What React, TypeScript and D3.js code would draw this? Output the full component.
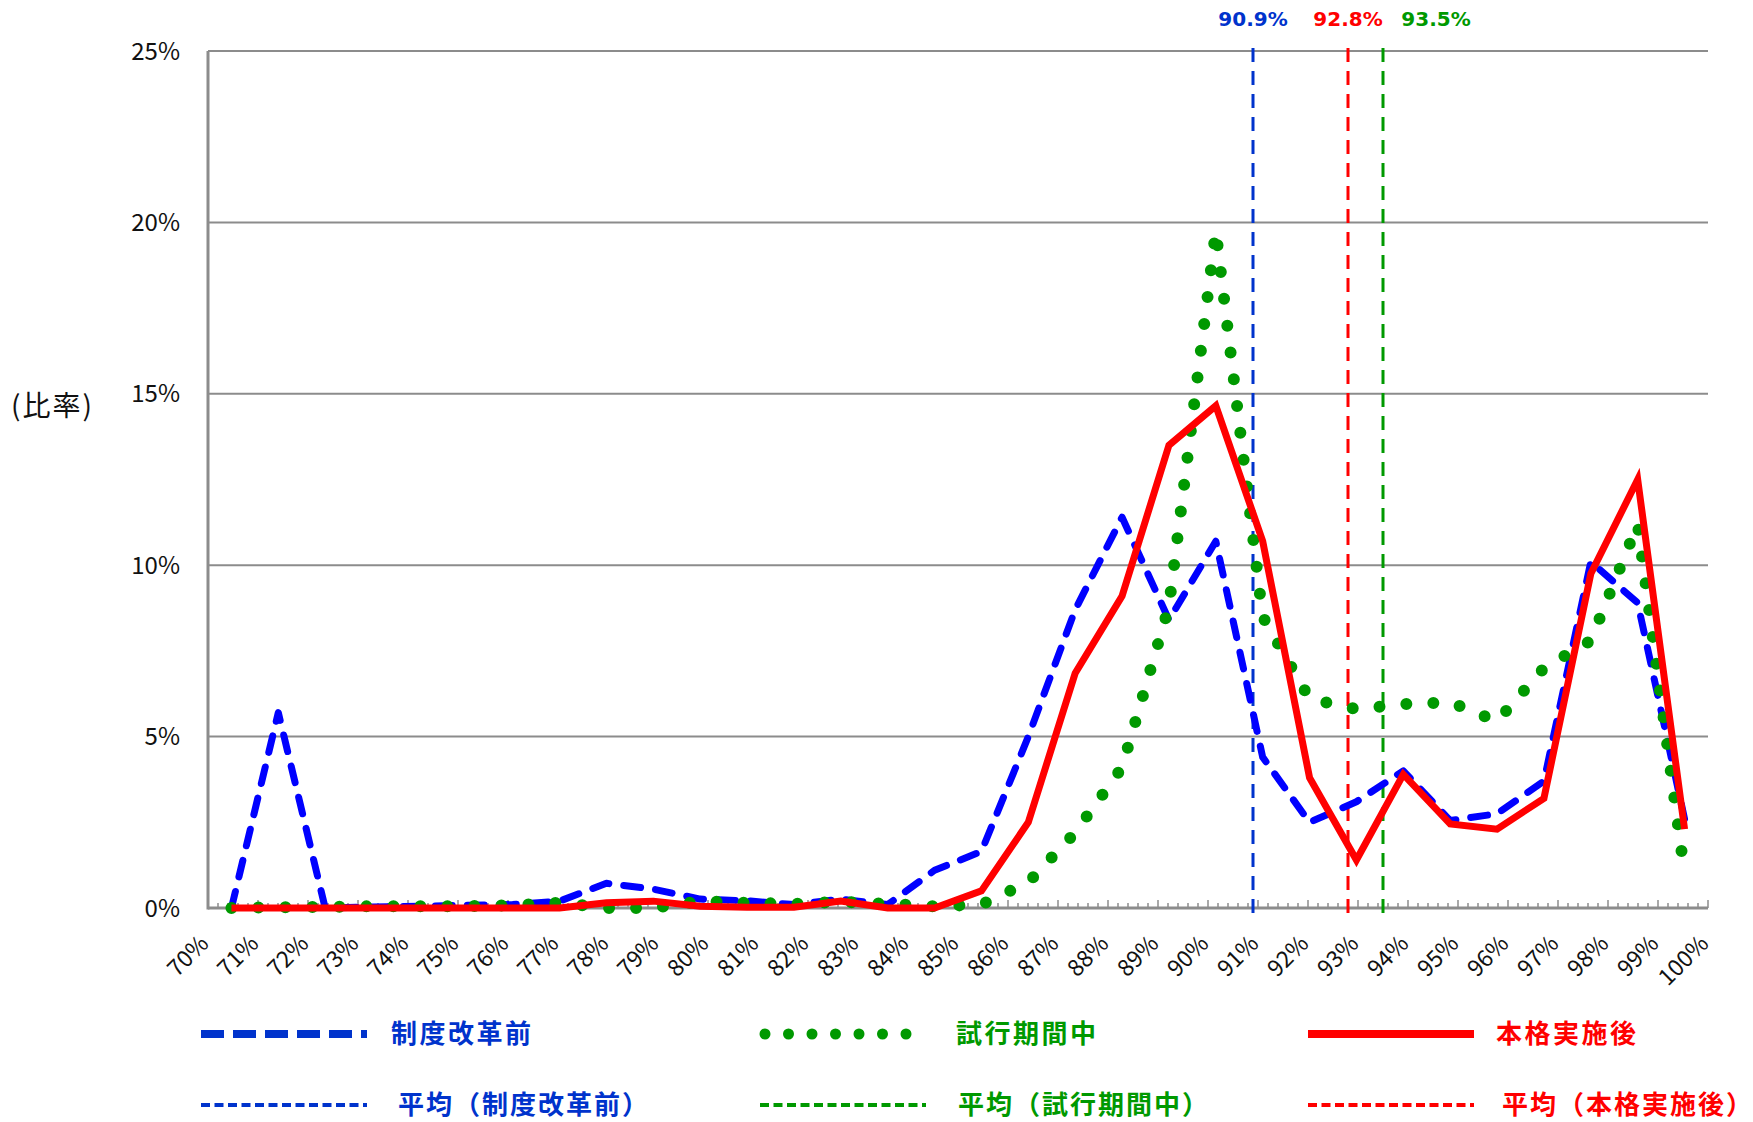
import React, { useEffect, useRef } from 'react';
import * as d3 from 'd3';

// 32 bins along the x axis (one point per bin)
const bins = [
    '〜70', '70-71', '71-72', '72-73', '73-74', '74-75', '75-76', '76-77',
    '77-78', '78-79', '79-80', '80-81', '81-82', '82-83', '83-84', '84-85',
    '85-86', '86-87', '87-88', '88-89', '89-90', '90-91', '91-92', '92-93',
    '93-94', '94-95', '95-96', '96-97', '97-98', '98-99', '99-100', '100'
];

// 比率 (%) for each series
const beforeReform = [
    0, 5.7, 0, 0.03, 0.05, 0.08, 0.1, 0.2,
    0.72, 0.55, 0.26, 0.21, 0.1, 0.26, 0.1, 1.1,
    1.65, 5.0, 8.7, 11.4, 8.4, 10.7, 4.4, 2.5,
    3.1, 4.0, 2.55, 2.75, 3.7, 10.1, 8.9, 2.6
];
const trialPeriod = [
    0, 0.02, 0.03, 0.05, 0.05, 0.05, 0.08, 0.15,
    0, 0, 0.2, 0.15, 0.12, 0.18, 0.12, 0.05,
    0.1, 0.75, 2.2, 4.1, 8.8, 19.75, 8.5, 6.1,
    5.8, 5.95, 6.0, 5.45, 7.0, 7.8, 11.2, 1.0
];
const fullImpl = [
    0, 0, 0, 0, 0, 0, 0, 0,
    0.15, 0.2, 0.05, 0.02, 0.02, 0.2, 0, 0,
    0.5, 2.5, 6.85, 9.1, 13.5, 14.65, 10.7, 3.8,
    1.4, 3.9, 2.45, 2.3, 3.2, 9.75, 12.5, 2.3
];

const xLabels = [
    '70%', '71%', '72%', '73%', '74%', '75%', '76%', '77%', '78%', '79%', '80%',
    '81%', '82%', '83%', '84%', '85%', '86%', '87%', '88%', '89%', '90%',
    '91%', '92%', '93%', '94%', '95%', '96%', '97%', '98%', '99%', '100%'
];
const yTicks = [0, 5, 10, 15, 20, 25];

// averages (vertical reference lines)
const avgValues = [90.9, 92.8, 93.5];
const avgLabels = ['90.9%', '92.8%', '93.5%'];
const avgColors = ['#0033CC', '#FF0000', '#009900'];
const avgLabelShift = [0, 0, 53];

const seriesNames = ['制度改革前', '試行期間中', '本格実施後'];
const avgNames = ['平均（制度改革前）', '平均（試行期間中）', '平均（本格実施後）'];
const legendColors = ['#0033CC', '#009900', '#FF0000'];

const tickFont = "'Noto Sans CJK JP', 'Noto Sans', sans-serif";

const App = () => {
    const chartRef = useRef(null);

    useEffect(() => {
        drawChart();
    }, []);

    const drawChart = () => {
        d3.select(chartRef.current).selectAll('*').remove();

        const width = 1753;
        const height = 1122;
        const margin = { top: 51, right: 45, bottom: 214, left: 208 };
        const x0 = margin.left;
        const x1 = width - margin.right;
        const yBase = height - margin.bottom;

        const svg = d3.select(chartRef.current)
            .append('svg')
            .attr('width', width)
            .attr('height', height)
            .style('display', 'block')
            .style('background', '#fff');

        const x = d3.scalePoint()
            .domain(bins)
            .range([x0, x1])
            .padding(0.5);

        const xPct = d3.scaleLinear()
            .domain([70, 100])
            .range([x0, x1]);

        const y = d3.scaleLinear()
            .domain([0, 25])
            .range([yBase, margin.top]);

        // gridlines
        svg.append('g')
            .selectAll('line')
            .data(yTicks.filter(d => d > 0))
            .enter()
            .append('line')
            .attr('x1', x0)
            .attr('x2', x1)
            .attr('y1', d => y(d))
            .attr('y2', d => y(d))
            .attr('stroke', '#8c8c8c')
            .attr('stroke-width', 2);

        // y labels
        svg.append('g')
            .selectAll('text')
            .data(yTicks)
            .enter()
            .append('text')
            .attr('x', 180)
            .attr('y', d => y(d))
            .attr('dy', '0.36em')
            .attr('text-anchor', 'end')
            .attr('font-family', tickFont)
            .attr('font-size', 24)
            .attr('fill', '#111')
            .text(d => `${d}%`);

        svg.append('text')
            .attr('x', 11)
            .attr('y', 406)
            .attr('dy', '0.36em')
            .attr('font-family', tickFont)
            .attr('font-size', 28)
            .attr('letter-spacing', 2)
            .attr('fill', '#111')
            .text('(比率)');

        // x minor / major ticks (every 0.2%)
        const tickVals = d3.range(0, 151).map(i => ({ v: 70 + i * 0.2, major: i % 5 === 0 }));
        svg.append('g')
            .selectAll('line')
            .data(tickVals)
            .enter()
            .append('line')
            .attr('x1', d => xPct(d.v))
            .attr('x2', d => xPct(d.v))
            .attr('y1', yBase)
            .attr('y2', d => yBase - (d.major ? 8 : 5))
            .attr('stroke', '#8c8c8c')
            .attr('stroke-width', 1.5);

        // x labels
        svg.append('g')
            .selectAll('text')
            .data(xLabels)
            .enter()
            .append('text')
            .attr('transform', d => `translate(${xPct(parseFloat(d)) + 2},${yBase + 37}) rotate(-45)`)
            .attr('text-anchor', 'end')
            .attr('font-family', tickFont)
            .attr('font-size', 23)
            .attr('fill', '#111')
            .text(d => d);

        // axes
        svg.append('line')
            .attr('x1', x0).attr('x2', x0)
            .attr('y1', margin.top).attr('y2', yBase + 1.5)
            .attr('stroke', '#8c8c8c').attr('stroke-width', 3);
        svg.append('line')
            .attr('x1', x0).attr('x2', x1)
            .attr('y1', yBase).attr('y2', yBase)
            .attr('stroke', '#8c8c8c').attr('stroke-width', 3);

        // average lines
        avgValues.forEach((v, i) => {
            svg.append('line')
                .attr('x1', xPct(v)).attr('x2', xPct(v))
                .attr('y1', margin.top - 3).attr('y2', yBase + 7)
                .attr('stroke', avgColors[i])
                .attr('stroke-width', 3)
                .attr('stroke-dasharray', '14 9');
            svg.append('text')
                .attr('x', xPct(v) + avgLabelShift[i])
                .attr('y', 26)
                .attr('text-anchor', 'middle')
                .attr('font-family', "'DejaVu Sans', Verdana, sans-serif")
                .attr('font-weight', 'bold')
                .attr('font-size', 20)
                .attr('fill', avgColors[i])
                .text(avgLabels[i]);
        });

        const line = d3.line()
            .x((d, i) => x(bins[i]))
            .y(d => y(d));

        // 制度改革前
        svg.append('path')
            .datum(beforeReform)
            .attr('d', line)
            .attr('fill', 'none')
            .attr('stroke', '#0000FF')
            .attr('stroke-width', 7)
            .attr('stroke-dasharray', '17 15')
            .attr('stroke-linecap', 'round')
            .attr('stroke-linejoin', 'round');

        // 試行期間中
        svg.append('path')
            .datum(trialPeriod)
            .attr('d', line)
            .attr('fill', 'none')
            .attr('stroke', '#009900')
            .attr('stroke-width', 12)
            .attr('stroke-dasharray', '0 27')
            .attr('stroke-linecap', 'round')
            .attr('stroke-linejoin', 'round');

        // 本格実施後
        svg.append('path')
            .datum(fullImpl)
            .attr('d', line)
            .attr('fill', 'none')
            .attr('stroke', '#FF0000')
            .attr('stroke-width', 7)
            .attr('stroke-linejoin', 'miter');

        // Legend
        const legX = [201, 760, 1308];
        const legTextX = [391, 956, 1496];
        const legTextX2 = [398, 958, 1502];
        const row1 = 1034;
        const row2 = 1105;
        const sampleW = 166;

        // row 1 samples
        svg.append('line')
            .attr('x1', legX[0]).attr('x2', legX[0] + sampleW)
            .attr('y1', row1).attr('y2', row1)
            .attr('stroke', legendColors[0]).attr('stroke-width', 8)
            .attr('stroke-dasharray', '23 9');
        svg.append('line')
            .attr('x1', legX[1] + 5).attr('x2', legX[1] + sampleW)
            .attr('y1', row1).attr('y2', row1)
            .attr('stroke', legendColors[1]).attr('stroke-width', 11)
            .attr('stroke-dasharray', '0 23.5')
            .attr('stroke-linecap', 'round');
        svg.append('line')
            .attr('x1', legX[2]).attr('x2', legX[2] + sampleW)
            .attr('y1', row1).attr('y2', row1)
            .attr('stroke', legendColors[2]).attr('stroke-width', 8);

        // row 2 samples
        legX.forEach((lx, i) => {
            svg.append('line')
                .attr('x1', lx).attr('x2', lx + sampleW)
                .attr('y1', row2).attr('y2', row2)
                .attr('stroke', legendColors[i]).attr('stroke-width', 4)
                .attr('stroke-dasharray', '9 4.5');
        });

        seriesNames.forEach((name, i) => {
            svg.append('text')
                .attr('x', legTextX[i])
                .attr('y', row1)
                .attr('dy', '0.36em')
                .attr('font-family', tickFont)
                .attr('font-weight', 'bold')
                .attr('font-size', 26)
                .attr('letter-spacing', 2.5)
                .attr('fill', legendColors[i])
                .text(name);
            svg.append('text')
                .attr('x', legTextX2[i])
                .attr('y', row2)
                .attr('dy', '0.36em')
                .attr('font-family', tickFont)
                .attr('font-weight', 'bold')
                .attr('font-size', 26)
                .attr('letter-spacing', 2)
                .attr('fill', legendColors[i])
                .text(avgNames[i]);
        });
    };

    return (
        <div ref={chartRef} style={{ position: 'absolute', left: 0, top: 0 }}></div>
    );
};

export default App;
